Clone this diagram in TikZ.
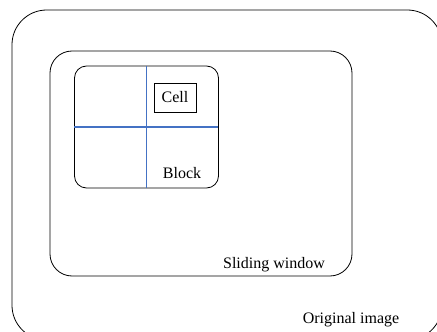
\documentclass[tikz,border=0pt]{standalone}
\usepackage{fontspec}
\setmainfont{Liberation Serif}
\usepackage{tikz}
\usetikzlibrary{positioning, calc}
\definecolor{gridblue}{RGB}{68,114,196}

\begin{document}
\begin{tikzpicture}[x=0.75pt, y=-0.75pt,
    box/.style={draw, line width=0.6pt, inner sep=0pt, outer sep=0pt},
    txt/.style={font=\fontsize{12}{14}\selectfont, inner sep=0pt},
    gridline/.style={draw=gridblue, line width=0.9pt}]
    \useasboundingbox (0,0) rectangle (437,332);
    \clip (0,0) rectangle (437,332);

    \node[box, rounded corners=26pt, minimum width=322.5pt, minimum height=247.5pt] (image) at (227,175) {};
    \node[box, rounded corners=16.5pt, minimum width=226.5pt, minimum height=168.75pt] (window) at (201,163.5) {};
    \node[box, rounded corners=9pt, minimum width=108pt, minimum height=91.5pt] (block) at (146.5,127) {};
    \node[box, txt, minimum width=31.5pt, minimum height=21.75pt] (cell) at (175,97.5) {Cell};

    \draw[gridline] (block.north) -- (block.south);
    \draw[gridline] (block.west) -- (block.east);

    \node[txt] (blocktext) at (182,173) {Block};
    \node[txt] (windowtext) at (274,265) {Sliding window};
    \node[txt] (imagetext) at (351,320) {Original image};
\end{tikzpicture}
\end{document}
